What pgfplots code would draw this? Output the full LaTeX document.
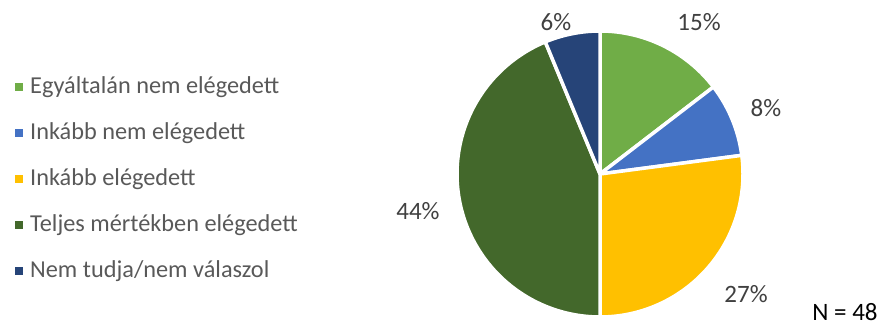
\documentclass[border=0pt]{standalone}
\usepackage{fontspec}
\setmainfont{Carlito}
\usepackage{pgfplots}
\pgfplotsset{compat=1.18}
\definecolor{cA}{HTML}{70AD47}
\definecolor{cB}{HTML}{4472C4}
\definecolor{cC}{HTML}{FFC000}
\definecolor{cD}{HTML}{43682B}
\definecolor{cE}{HTML}{264478}
\definecolor{txt}{HTML}{595959}
\definecolor{lbl}{HTML}{404040}
% counts out of N = 48
\def\nA{7}\def\nB{4}\def\nC{13}\def\nD{21}\def\nE{3}\def\nN{48}
\begin{document}
\begin{tikzpicture}
\pgfmathsetmacro{\step}{360/\nN}
\pgfmathsetmacro{\aA}{90}
\pgfmathsetmacro{\aB}{\aA-\nA*\step}
\pgfmathsetmacro{\aC}{\aB-\nB*\step}
\pgfmathsetmacro{\aD}{\aC-\nC*\step}
\pgfmathsetmacro{\aE}{\aD-\nD*\step}
\pgfmathsetmacro{\aF}{\aE-\nE*\step}
\begin{axis}[
  x=1pt, y=1pt, xmin=0, xmax=889, ymin=0, ymax=329,
  hide axis, clip=false,
  legend style={at={(axis cs:12,150)}, anchor=west, draw=none, fill=none,
    font=\fontsize{24.3}{28}\selectfont, text=txt, row sep=21pt,
    nodes={inner sep=1pt, text height=18pt, text depth=5pt},
    /tikz/every odd column/.append style={column sep=6pt}},
  legend cell align=left,
  legend image code/.code={\fill[#1,draw=none] (0pt,-4pt) rectangle (8pt,4pt);},
]
\path (axis cs:0,0) rectangle (axis cs:889,329);
\addplot[fill=cA, draw=white, line width=3.5pt, line join=round, domain=\aB:\aA, samples=60, variable=\t]
  ({600+143*cos(\t)}, {155+143*sin(\t)}) -- (axis cs:600,155) -- cycle;
\addplot[fill=cB, draw=white, line width=3.5pt, line join=round, domain=\aC:\aB, samples=40, variable=\t]
  ({600+143*cos(\t)}, {155+143*sin(\t)}) -- (axis cs:600,155) -- cycle;
\addplot[fill=cC, draw=white, line width=3.5pt, line join=round, domain=\aD:\aC, samples=80, variable=\t]
  ({600+143*cos(\t)}, {155+143*sin(\t)}) -- (axis cs:600,155) -- cycle;
\addplot[fill=cD, draw=white, line width=3.5pt, line join=round, domain=\aE:\aD, samples=120, variable=\t]
  ({600+143*cos(\t)}, {155+143*sin(\t)}) -- (axis cs:600,155) -- cycle;
\addplot[fill=cE, draw=white, line width=3.5pt, line join=round, domain=\aF:\aE, samples=30, variable=\t]
  ({600+143*cos(\t)}, {155+143*sin(\t)}) -- (axis cs:600,155) -- cycle;
\legend{Egyáltalán nem elégedett, Inkább nem elégedett, Inkább elégedett, Teljes mértékben elégedett, Nem tudja/nem válaszol}
\begin{scope}[every node/.style={font=\fontsize{25}{29}\selectfont, text=lbl}]
\node at (axis cs:699,307) {15\%};
\node at (axis cs:766,221) {8\%};
\node at (axis cs:746,35) {27\%};
\node at (axis cs:418,118) {44\%};
\node at (axis cs:556,307) {6\%};
\node[text=black, font=\fontsize{25}{29}\selectfont, inner sep=0pt] at (axis cs:845,17) {N = 48};
\end{scope}
\end{axis}
\end{tikzpicture}
\end{document}
